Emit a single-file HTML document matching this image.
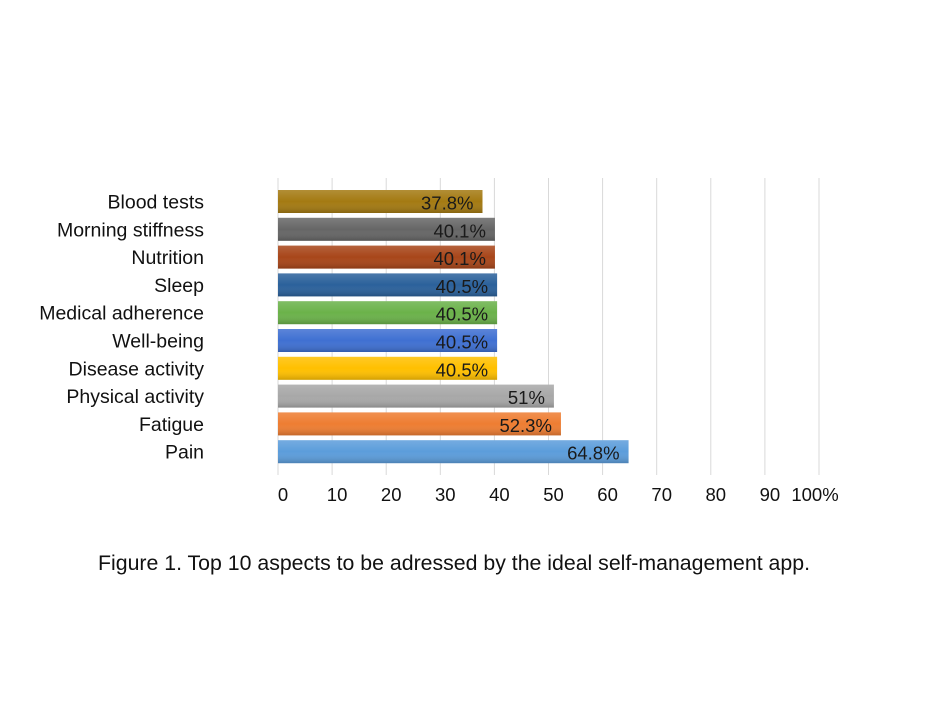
<!DOCTYPE html>
<html><head><meta charset="utf-8"><style>
body{margin:0;background:#fff;}
svg text{font-family:"Liberation Sans",sans-serif;}
</style></head><body>
<svg id="chart" width="946" height="711" xmlns="http://www.w3.org/2000/svg">
<defs>
<linearGradient id="shade" x1="0" y1="0" x2="0" y2="1">
<stop offset="0" stop-color="#fff" stop-opacity="0.15"/>
<stop offset="0.5" stop-color="#fff" stop-opacity="0"/>
<stop offset="1" stop-color="#000" stop-opacity="0.18"/>
</linearGradient>
</defs>
<g id="grid"></g><g id="bars"></g><g id="labels"></g>
<text x="454" y="570" font-size="21" text-anchor="middle" fill="#111" textLength="712" lengthAdjust="spacingAndGlyphs">Figure 1. Top 10 aspects to be adressed by the ideal self-management app.</text>
</svg>
<script>
const categories=["Blood tests","Morning stiffness","Nutrition","Sleep","Medical adherence","Well-being","Disease activity","Physical activity","Fatigue","Pain"];
const values=[37.8,40.1,40.1,40.5,40.5,40.5,40.5,51,52.3,64.8];
const valueLabels=["37.8%","40.1%","40.1%","40.5%","40.5%","40.5%","40.5%","51%","52.3%","64.8%"];
const colors=["#a47a12","#666666","#a8461a","#2b619b","#6bb24a","#3f70d2","#ffc000","#a8a8a8","#ee7d32","#5c9ddb"];
const ticks=[0,10,20,30,40,50,60,70,80,90,100];
const tickLabels=["0","10","20","30","40","50","60","70","80","90","100%"];
const NS="http://www.w3.org/2000/svg";
const x=v=>278+v*5.41;
const yTop=i=>190+i*27.8;
const barH=23;
function mk(tag,attrs,parent){const e=document.createElementNS(NS,tag);for(const k in attrs)e.setAttribute(k,attrs[k]);parent.appendChild(e);return e;}
const grid=document.getElementById('grid'),bars=document.getElementById('bars'),labels=document.getElementById('labels');
ticks.forEach((t,i)=>{
  const l=mk('line',{x1:x(t),x2:x(t),y1:178,y2:475,stroke:'#d9d9d9','stroke-width':1},grid);
  
  
  const tx=mk('text',{x:x(t)+(i==10?-4:5),y:501,'font-size':18.5,'text-anchor':'middle',fill:'#111'},labels);
  tx.textContent=tickLabels[i];
  
  
});
categories.forEach((c,i)=>{
  const y=yTop(i);
  const r=mk('rect',{x:x(0),y:y,width:x(values[i])-x(0),height:barH,fill:colors[i]},bars);
  
  
  const s=mk('rect',{x:x(0),y:y,width:x(values[i])-x(0),height:barH,fill:'url(#shade)'},bars);
  
  
  const v=mk('text',{x:x(values[i])-9,y:y+barH/2+8,'font-size':18.5,'text-anchor':'end',fill:'#1a1a1a'},labels);
  v.textContent=valueLabels[i];
  
  
  const cl=mk('text',{x:204,y:y+barH/2+7,'font-size':19.5,'text-anchor':'end',fill:'#111'},labels);
  cl.textContent=c;
  
  
});
</script>
</body></html>
